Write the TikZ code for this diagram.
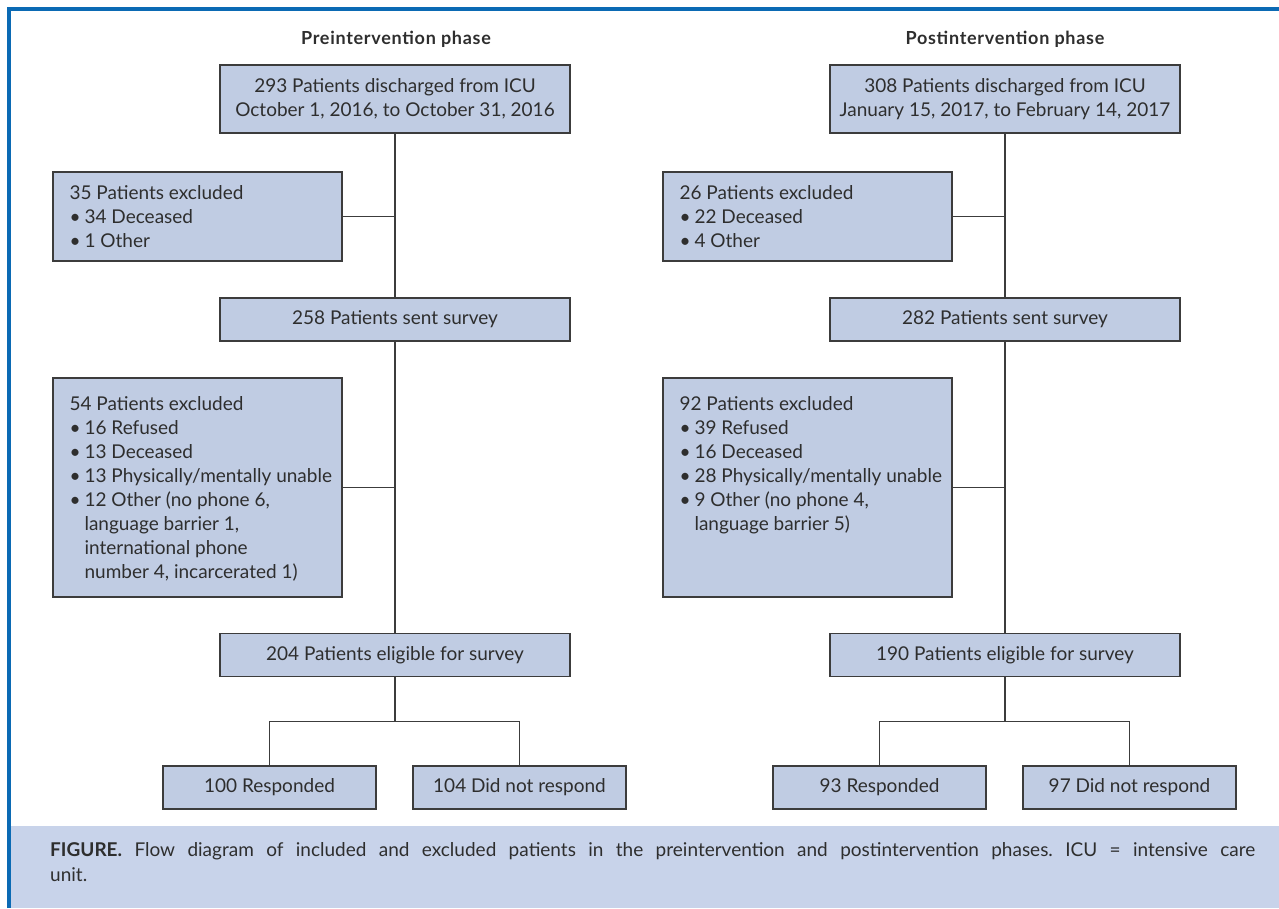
\documentclass[tikz,border=0pt]{standalone}
\usepackage{fontspec}
\setmainfont{Lato}
\definecolor{framec}{HTML}{0B6AB4}
\definecolor{boxfill}{HTML}{C0CCE3}
\definecolor{capfill}{HTML}{C8D3EA}
\definecolor{linec}{HTML}{3C3C3C}
\definecolor{txt}{HTML}{2E2E2E}
\newcommand{\bx}{\makebox[15pt][l]{•}}
\newcommand{\ind}{\hspace*{15pt}}
\frenchspacing
\begin{document}
\begin{tikzpicture}[x=1pt,y=-1pt,
  every node/.style={text=txt},
  fl/.style={draw=linec, line width=1.3pt},
  mainbox/.style={draw=linec, fill=boxfill, line width=1.3pt, minimum width=350pt, minimum height=43pt, inner sep=0pt, align=center, font=\fontsize{19}{24}\selectfont},
  exclbox/.style={draw=linec, fill=boxfill, line width=1.3pt, minimum width=289pt, inner sep=0pt},
  excltext/.style={anchor=north west, inner sep=0pt, align=left, font=\fontsize{19}{24}\selectfont},
  smallbox/.style={draw=linec, fill=boxfill, line width=1.3pt, minimum width=213pt, minimum height=43pt, inner sep=0pt, font=\fontsize{19}{24}\selectfont},
  phase/.style={font=\bfseries\fontsize{18}{20}\selectfont\addfontfeatures{LetterSpace=4}, inner sep=0pt}]
\useasboundingbox (0,0) rectangle (1279,908);
% frame and caption background
\fill[capfill] (10.7,826) rectangle (1279,908);
\draw[framec, line width=3.4pt] (9,908) -- (9,9) -- (1279,9);
\node[anchor=base west, inner sep=0pt, text width=1205pt, align=justify, font=\fontsize{19}{25}\selectfont] (cap) at (50,856)
  {\textbf{FIGURE.} Flow diagram of included and excluded patients in the preintervention and postintervention phases. ICU = intensive care\linebreak unit.};
% ---------- Preintervention ----------
\node[phase] (Lt) at (396,39) {Preintervention phase};
\node[mainbox, minimum height=68pt] (Lb1) at (395,99) {293 Patients discharged from ICU\\October 1, 2016, to October 31, 2016};
\node[exclbox, minimum height=89pt] (Le1) at (197.5,216.5) {};
\node[excltext] (Le1t) at ([shift={(17,14)}]Le1.north west) {35 Patients excluded\\\bx 34 Deceased\\\bx 1 Other};
\node[mainbox] (Ls) at (395,319.5) {258 Patients sent survey};
\node[exclbox, minimum height=219pt] (Le2) at (197.5,487.5) {};
\node[excltext] (Le2t) at ([shift={(17,19)}]Le2.north west) {54 Patients excluded\\\bx 16 Refused\\\bx 13 Deceased\\\bx 13 Physically/mentally unable\\\bx 12 Other (no phone 6,\\\ind language barrier 1,\\\ind international phone\\\ind number 4, incarcerated 1)};
\node[mainbox] (Lel) at (395,655) {204 Patients eligible for survey};
\node[smallbox] (Lr) at (269.5,787.5) {100 Responded};
\node[smallbox] (Ln) at (519.5,787.5) {104 Did not respond};
\draw[fl] (Lb1.south) -- (Ls.north);
\draw[fl] (Le1.east) -- (Le1.east -| Lb1.south);
\draw[fl] (Ls.south) -- (Lel.north);
\draw[fl] (Le2.east) -- (Le2.east -| Ls.south);
\draw[fl] (Lel.south) -- ++(0,44) coordinate (Lj);
\draw[fl] (Lr.north) |- (Lj) -| (Ln.north);
% ---------- Postintervention ----------
\node[phase] (Rt) at (1005,39) {Postintervention phase};
\node[mainbox, minimum height=68pt] (Rb1) at (1005,99) {308 Patients discharged from ICU\\January 15, 2017, to February 14, 2017};
\node[exclbox, minimum height=89pt] (Re1) at (807.5,216.5) {};
\node[excltext] (Re1t) at ([shift={(17,14)}]Re1.north west) {26 Patients excluded\\\bx 22 Deceased\\\bx 4 Other};
\node[mainbox] (Rs) at (1005,319.5) {282 Patients sent survey};
\node[exclbox, minimum height=219pt] (Re2) at (807.5,487.5) {};
\node[excltext] (Re2t) at ([shift={(17,19)}]Re2.north west) {92 Patients excluded\\\bx 39 Refused\\\bx 16 Deceased\\\bx 28 Physically/mentally unable\\\bx 9 Other (no phone 4,\\\ind language barrier 5)};
\node[mainbox] (Rel) at (1005,655) {190 Patients eligible for survey};
\node[smallbox] (Rr) at (879.5,787.5) {93 Responded};
\node[smallbox] (Rn) at (1129.5,787.5) {97 Did not respond};
\draw[fl] (Rb1.south) -- (Rs.north);
\draw[fl] (Re1.east) -- (Re1.east -| Rb1.south);
\draw[fl] (Rs.south) -- (Rel.north);
\draw[fl] (Re2.east) -- (Re2.east -| Rs.south);
\draw[fl] (Rel.south) -- ++(0,44) coordinate (Rj);
\draw[fl] (Rr.north) |- (Rj) -| (Rn.north);
\end{tikzpicture}
\end{document}
